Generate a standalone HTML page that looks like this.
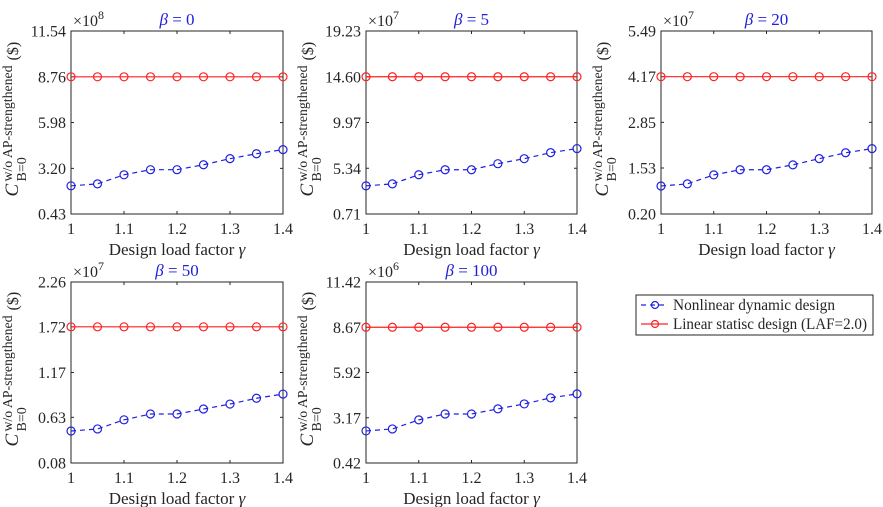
<!DOCTYPE html>
<html><head><meta charset="utf-8"><style>
body{margin:0;background:#fff;}
svg{display:block;font-family:"Liberation Serif",serif;}
</style></head><body>
<svg id="c" width="883" height="507" xmlns="http://www.w3.org/2000/svg"></svg>
<script>
const xCategories=[1,1.05,1.1,1.15,1.2,1.25,1.3,1.35,1.4];
const xTickLabels=["1","1.1","1.2","1.3","1.4"];
const betaLabels=["0","5","20","50","100"];
const exponents=["8","7","7","7","6"];
const yTicks0=[0.43,3.20,5.98,8.76,11.54];
const yTicks1=[0.71,5.34,9.97,14.60,19.23];
const yTicks2=[0.20,1.53,2.85,4.17,5.49];
const yTicks3=[0.08,0.63,1.17,1.72,2.26];
const yTicks4=[0.42,3.17,5.92,8.67,11.42];
const nonlinear0=[2.14,2.26,2.81,3.12,3.12,3.42,3.79,4.09,4.34];
const nonlinear1=[3.56,3.76,4.68,5.19,5.19,5.80,6.31,6.92,7.33];
const nonlinear2=[1.01,1.07,1.33,1.48,1.48,1.62,1.80,1.97,2.09];
const nonlinear3=[0.465,0.49,0.60,0.67,0.67,0.73,0.79,0.86,0.91];
const nonlinear4=[2.37,2.49,3.04,3.40,3.40,3.71,4.01,4.38,4.62];
const linear0=[8.76,8.76,8.76,8.76,8.76,8.76,8.76,8.76,8.76];
const linear1=[14.60,14.60,14.60,14.60,14.60,14.60,14.60,14.60,14.60];
const linear2=[4.17,4.17,4.17,4.17,4.17,4.17,4.17,4.17,4.17];
const linear3=[1.72,1.72,1.72,1.72,1.72,1.72,1.72,1.72,1.72];
const linear4=[8.67,8.67,8.67,8.67,8.67,8.67,8.67,8.67,8.67];

const yTicksAll=[yTicks0,yTicks1,yTicks2,yTicks3,yTicks4];
const nlAll=[nonlinear0,nonlinear1,nonlinear2,nonlinear3,nonlinear4];
const linAll=[linear0,linear1,linear2,linear3,linear4];
const boxes=[[71,31,283,214],[366,31,577,214],[661,31,872,214],[71,282,283,463],[366,282,577,463]];
const svg=document.getElementById('c');
const NS='http://www.w3.org/2000/svg';
function mk(t,a,p){const e=document.createElementNS(NS,t);for(const k in a)e.setAttribute(k,a[k]);(p||svg).appendChild(e);return e;}

for(let i=0;i<5;i++){
  const [x0,y0,x1,y1]=boxes[i];
  const yt=yTicksAll[i];
  const g=mk('g',{});
  
  
  const xs=v=>x0+(v-1)/0.4*(x1-x0);
  const ys=v=>y1-(v-yt[0])/(yt[yt.length-1]-yt[0])*(y1-y0);
  const r=mk('rect',{x:x0,y:y0,width:x1-x0,height:y1-y0,fill:'#fff',stroke:'#262626','stroke-width':1},g);
  
  
  xTickLabels.forEach(l=>{const v=parseFloat(l);const x=xs(v);
    mk('line',{x1:x,x2:x,y1:y1,y2:y1-3,stroke:'#262626'},g);
    mk('line',{x1:x,x2:x,y1:y0,y2:y0+3,stroke:'#262626'},g);
    const t=mk('text',{x:x,y:y1+20,'text-anchor':'middle','font-size':16,fill:'#262626'},g);t.textContent=l;
    
    
  });
  yt.forEach(v=>{const y=ys(v);
    mk('line',{x1:x0,x2:x0+3,y1:y,y2:y,stroke:'#262626'},g);
    mk('line',{x1:x1,x2:x1-3,y1:y,y2:y,stroke:'#262626'},g);
    const t=mk('text',{x:x0-5,y:y+5.5,'text-anchor':'end','font-size':16,fill:'#262626'},g);t.textContent=v.toFixed(2);
    
    
  });
  const ex=mk('text',{x:x0+2,y:y0-5,'font-size':16,fill:'#262626'},g);
  ex.innerHTML='×10<tspan dy="-7" font-size="12">'+exponents[i]+'</tspan>';
  
  
  const ti=mk('text',{x:(x0+x1)/2,y:y0-6,'text-anchor':'middle','font-size':17,fill:'#1f1fdc'},g);
  ti.innerHTML='<tspan font-style="italic">β</tspan> = '+betaLabels[i];
  
  
  const xl=mk('text',{x:(x0+x1)/2,y:y1+41,'text-anchor':'middle','font-size':17,fill:'#262626'},g);
  xl.innerHTML='Design load factor <tspan font-style="italic">γ</tspan>';
  
  
  const cy=(y0+y1)/2;
  const yl=mk('g',{transform:`translate(${x0-48},${cy}) rotate(-90)`,fill:'#262626'},g);
  
  
  const a=mk('text',{x:-74,y:-5,'font-size':19,'font-style':'italic'},yl);a.textContent='C';
  const b=mk('text',{x:-59,y:-11,'font-size':14,textLength:116,lengthAdjust:'spacingAndGlyphs'},yl);b.textContent='w/o AP-strengthened';
  const c=mk('text',{x:-59,y:3,'font-size':14},yl);c.textContent='B=0';
  const d=mk('text',{x:62,y:-5,'font-size':16},yl);d.textContent='($)';
  const series=[[linAll[i],'#ff2020','none','linear-static-series'],[nlAll[i],'#2020e0','5,4','nonlinear-dynamic-series']];
  series.forEach(([dd,col,dash,name])=>{
    const sg=mk('g',{},g);
    
    
    const pts=dd.map((v,j)=>xs(xCategories[j])+','+ys(v)).join(' ');
    mk('polyline',{points:pts,fill:'none',stroke:col,'stroke-width':1.2,'stroke-dasharray':dash},sg);
    dd.forEach((v,j)=>{const m=mk('circle',{cx:xs(xCategories[j]),cy:ys(v),r:4,fill:'none',stroke:col,'stroke-width':1.2},sg);
      
      });
  });
}
const lg=mk('g',{});


mk('rect',{x:636,y:295,width:237,height:40,fill:'#fff',stroke:'#262626'},lg);
mk('line',{x1:641,x2:668,y1:305,y2:305,stroke:'#2020e0','stroke-dasharray':'5,4','stroke-width':1.2},lg);
mk('circle',{cx:655,cy:305,r:3.5,fill:'none',stroke:'#2020e0','stroke-width':1.2},lg);
const l1=mk('text',{x:673,y:310,'font-size':16,fill:'#262626',textLength:162,lengthAdjust:'spacingAndGlyphs'},lg);l1.textContent='Nonlinear dynamic design';


mk('line',{x1:641,x2:668,y1:324,y2:324,stroke:'#ff2020','stroke-width':1.2},lg);
mk('circle',{cx:655,cy:324,r:3.5,fill:'none',stroke:'#ff2020','stroke-width':1.2},lg);
const l2=mk('text',{x:673,y:329,'font-size':16,fill:'#262626',textLength:194,lengthAdjust:'spacingAndGlyphs'},lg);l2.textContent='Linear statisc design (LAF=2.0)';


</script>
</body></html>
